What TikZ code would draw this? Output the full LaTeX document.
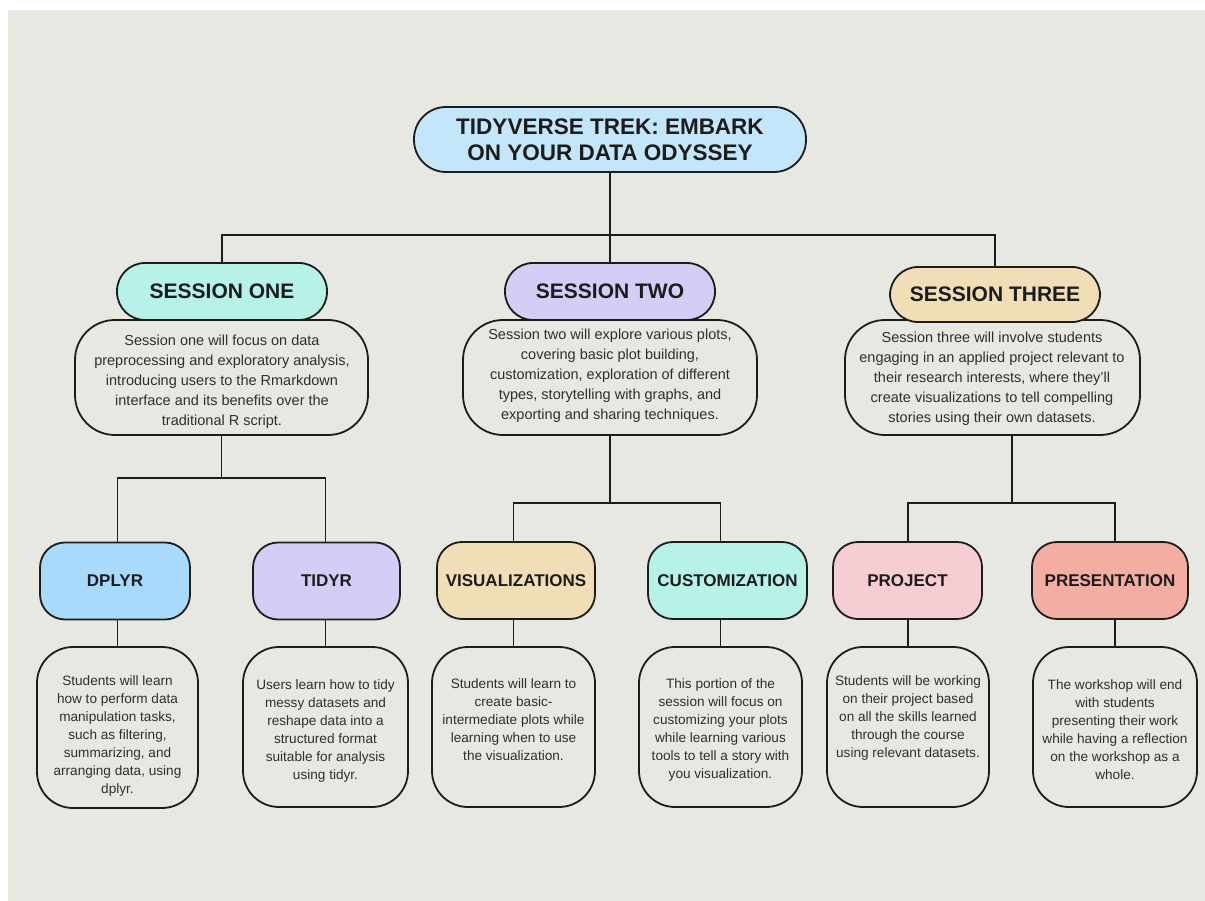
\documentclass[tikz,border=0pt]{standalone}
\usepackage{fontspec}
\setmainfont{Liberation Sans}
\usetikzlibrary{positioning}

\definecolor{ink}{HTML}{1C1C1C}
\definecolor{bodyink}{HTML}{2E2E2E}
\definecolor{paper}{HTML}{E8E8E3}
\definecolor{skyfill}{HTML}{C4E6FB}
\definecolor{mintfill}{HTML}{B6F2E8}
\definecolor{lilacfill}{HTML}{D2CEF5}
\definecolor{sandfill}{HTML}{F1DDB6}
\definecolor{bluefill}{HTML}{A8DAFB}
\definecolor{rosefill}{HTML}{F7CDD4}
\definecolor{coralfill}{HTML}{F4ADA2}

\begin{document}
\begin{tikzpicture}[x=1pt,y=-1pt,
	link/.style={draw=ink, line width=1.8pt},
	pill/.style={draw=ink, line width=1.8pt, rounded corners=28pt, inner sep=0pt, align=center, text=ink,
		font=\fontsize{21}{24}\selectfont\bfseries, minimum width=210pt, minimum height=57pt},
	blurb/.style={draw=ink, line width=1.8pt, fill=paper, rounded corners=40pt, inner sep=0pt,
		minimum width=294pt, minimum height=115pt},
	tag/.style={draw=ink, line width=1.8pt, rounded corners=25pt, inner sep=0pt, align=center, text=ink,
		font=\fontsize{17}{20}\selectfont\bfseries, minimum height=77pt},
	card/.style={draw=ink, line width=1.8pt, fill=paper, rounded corners=36pt, inner sep=0pt,
		minimum width=162pt, minimum height=160pt},
	bigtxt/.style={align=center, text=bodyink, inner sep=0pt, font=\fontsize{14.5}{20}\selectfont},
	smalltxt/.style={align=center, text=bodyink, inner sep=0pt, font=\fontsize{13.6}{18}\selectfont}]
	
	\useasboundingbox (0,0) rectangle (1205,901);
	\fill[white] (0,0) rectangle (1205,901);
	\fill[paper] (8,10) rectangle (1205,901);
	
	% title
	\node[pill, fill=skyfill, minimum width=392pt, minimum height=65pt, rounded corners=32pt,
		font=\fontsize{22.5}{26}\selectfont\bfseries] (title) at (610,139.5)
		{TIDYVERSE TREK: EMBARK\\ON YOUR DATA ODYSSEY};
	
	% sessions
	\node[blurb, minimum width=293pt] (s1d) at (221.5,377.5) {};
	\node[pill, fill=mintfill] (s1) at (222,291.5) {SESSION ONE};
	\node[bigtxt] (s1t) at (222,382) {Session one will focus on data\\preprocessing and exploratory analysis,\\introducing users to the Rmarkdown\\interface and its benefits over the\\traditional R script.};
	
	\node[blurb] (s2d) at (610,377.5) {};
	\node[pill, fill=lilacfill] (s2) at (610,291.5) {SESSION TWO};
	\node[bigtxt] (s2t) at (610,376) {Session two will explore various plots,\\covering basic plot building,\\customization, exploration of different\\types, storytelling with graphs, and\\exporting and sharing techniques.};
	
	\node[blurb, minimum width=295pt] (s3d) at (992.5,377.5) {};
	\node[pill, fill=sandfill, minimum height=55pt] (s3) at (995,294.5) {SESSION THREE};
	\node[bigtxt] (s3t) at (992,379) {Session three will involve students\\engaging in an applied project relevant to\\their research interests, where they'll\\create visualizations to tell compelling\\stories using their own datasets.};
	
	% topics
	\node[tag, fill=bluefill, minimum width=150pt] (dplyr) at (115,581) {DPLYR};
	\node[tag, fill=lilacfill, minimum width=147pt] (tidyr) at (326.5,581) {TIDYR};
	\node[tag, fill=sandfill, minimum width=158pt] (vis) at (516,580.5) {VISUALIZATIONS};
	\node[tag, fill=mintfill, minimum width=159pt] (cust) at (727.5,580.5) {CUSTOMIZATION};
	\node[tag, fill=rosefill, minimum width=149pt] (proj) at (907.5,580.5) {PROJECT};
	\node[tag, fill=coralfill, minimum width=156pt] (pres) at (1110,580.5) {PRESENTATION};
	
	\node[card, minimum width=161pt, minimum height=161pt] (dplyrd) at (117.5,727.5) {};
	\node[card, minimum width=165pt] (tidyrd) at (325.5,727) {};
	\node[card, minimum width=163pt] (visd) at (513.5,727) {};
	\node[card, minimum width=163pt] (custd) at (720.5,727) {};
	\node[card, minimum width=162pt] (projd) at (908,727) {};
	\node[card, minimum width=164pt] (presd) at (1115,727) {};
	
	\node[smalltxt] (dplyrt) at (117.5,736) {Students will learn\\how to perform data\\manipulation tasks,\\such as filtering,\\summarizing, and\\arranging data, using\\dplyr.};
	\node[smalltxt] (tidyrt) at (325.5,731) {Users learn how to tidy\\messy datasets and\\reshape data into a\\structured format\\suitable for analysis\\using tidyr.};
	\node[smalltxt] (vist) at (513.5,720) {Students will learn to\\create basic-\\intermediate plots while\\learning when to use\\the visualization.};
	\node[smalltxt] (custt) at (720.5,730) {This portion of the\\session will focus on\\customizing your plots\\while learning various\\tools to tell a story with\\you visualization.};
	\node[smalltxt] (projt) at (908,718) {Students will be working\\on their project based\\on all the skills learned\\through the course\\using relevant datasets.};
	\node[smalltxt] (prest) at (1115,730) {The workshop will end\\with students\\presenting their work\\while having a reflection\\on the workshop as a\\whole.};
	
	% connectors
	\coordinate (bar) at (610,235);
	\coordinate (fork1) at (221.5,478);
	\coordinate (fork2) at (610,503);
	\coordinate (fork3) at (1012,503);
	
	\draw[link] (title) -- (s2);
	\draw[link] (s1.north) |- (bar) -| (s3.north);
	
	\draw[link] (s1d.south) -- (fork1);
	\draw[link] (s2d.south) -- (fork2);
	\draw[link] (fork3 |- s3d.south) -- (fork3);
	
	\draw[link] (dplyrd.north |- dplyr.north) |- (fork1) -| (tidyrd.north |- tidyr.north);
	\draw[link] (visd.north |- vis.north) |- (fork2) -| (custd.north |- cust.north);
	\draw[link] (projd.north |- proj.north) |- (fork3) -| (presd.north |- pres.north);
	
	\draw[link] (dplyr.south -| dplyrd.north) -- (dplyrd.north);
	\draw[link] (tidyr.south -| tidyrd.north) -- (tidyrd.north);
	\draw[link] (vis.south -| visd.north) -- (visd.north);
	\draw[link] (cust.south -| custd.north) -- (custd.north);
	\draw[link] (proj.south -| projd.north) -- (projd.north);
	\draw[link] (pres.south -| presd.north) -- (presd.north);
\end{tikzpicture}
\end{document}
